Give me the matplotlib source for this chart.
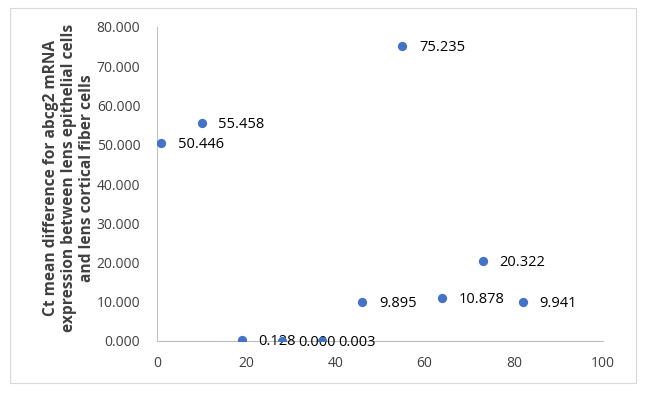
import matplotlib.pyplot as plt
from matplotlib.patches import Rectangle
from matplotlib.ticker import FormatStrFormatter

x_vals = [1, 10, 19, 28, 37, 46, 55, 64, 73, 82]
y_vals = [50.446, 55.458, 0.128, 0.000, 0.003, 9.895, 75.235, 10.878, 20.322, 9.941]
labels = ["50.446", "55.458", "0.128", "0.000", "0.003", "9.895", "75.235", "10.878", "20.322", "9.941"]

plt.rcParams['font.family'] = ['Open Sans', 'DejaVu Sans']

fig = plt.figure(figsize=(6.46, 3.96), dpi=100)
fig.patches.append(Rectangle((10/646, 1-383/396), 626/646, 375/396, transform=fig.transFigure,
                             fill=False, edgecolor='#d9d9d9', linewidth=0.8))
ax = fig.add_axes([157/646, 1-341/396, 446/646, 314/396])

ax.scatter(x_vals, y_vals, s=32, color='#4472C4', zorder=4)
for xv, yv, lab in zip(x_vals, y_vals, labels):
    ax.annotate(lab, (xv, yv), xytext=(12, -1), textcoords='offset points',
                va='center', ha='left', fontsize=10.5, color='#000000', zorder=3)

ax.set_xlim(0, 100)
ax.set_ylim(0, 80)
ax.set_xticks(range(0, 101, 20))
ax.set_yticks(range(0, 81, 10))
ax.yaxis.set_major_formatter(FormatStrFormatter('%.3f'))
ax.tick_params(length=0, labelsize=10, colors='#404040')
ax.tick_params(axis='y', pad=12)
ax.tick_params(axis='x', pad=11)
for s in ['top', 'right']:
    ax.spines[s].set_visible(False)
for s in ['left', 'bottom']:
    ax.spines[s].set_color('#bfbfbf')
    ax.spines[s].set_linewidth(0.8)

ax.set_ylabel("Ct mean difference for abcg2 mRNA\nexpression between lens epithelial cells\nand lens cortical fiber cells",
              fontsize=11.2, fontweight='bold', color='#404040', linespacing=1.15)
ax.yaxis.set_label_coords(-0.14, 0.52)

fig.savefig('out.png', dpi=100)
